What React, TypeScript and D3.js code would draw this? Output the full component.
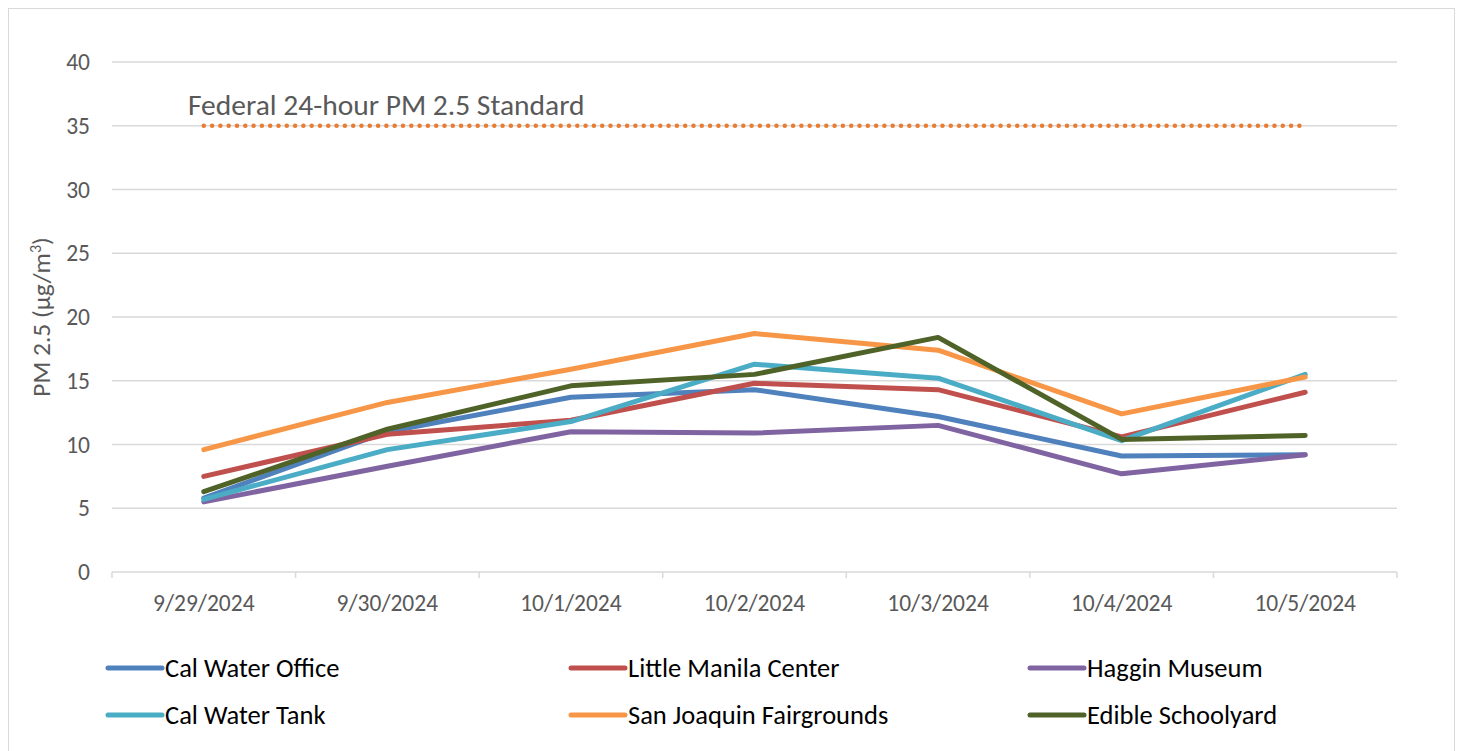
import React from "react";
import * as d3 from "d3";

const categories = ["9/29/2024", "9/30/2024", "10/1/2024", "10/2/2024", "10/3/2024", "10/4/2024", "10/5/2024"];
const calWaterOffice = [5.8, 11.0, 13.7, 14.3, 12.2, 9.1, 9.2];
const littleManila = [7.5, 10.8, 11.9, 14.8, 14.3, 10.6, 14.1];
const hagginMuseum = [5.5, 8.3, 11.0, 10.9, 11.5, 7.7, 9.2];
const calWaterTank = [5.7, 9.6, 11.8, 16.3, 15.2, 10.3, 15.5];
const sanJoaquin = [9.6, 13.3, 15.9, 18.7, 17.4, 12.4, 15.3];
const edibleSchoolyard = [6.3, 11.2, 14.6, 15.5, 18.4, 10.4, 10.7];
const federalStandard = [35, 35, 35, 35, 35, 35, 35];
const yTicks = [0, 5, 10, 15, 20, 25, 30, 35, 40];

const seriesNames = ["Cal Water Office", "Little Manila Center", "Haggin Museum", "Cal Water Tank", "San Joaquin Fairgrounds", "Edible Schoolyard"];
const seriesValues = [calWaterOffice, littleManila, hagginMuseum, calWaterTank, sanJoaquin, edibleSchoolyard];
const seriesColors = ["#4F81BD", "#C0504D", "#8064A2", "#4BACC6", "#F79646", "#4F6228"];

const FONT = "Carlito, 'Open Sans', 'Noto Sans', sans-serif";

export default function App() {
  const W = 1463, H = 751;
  const left = 112, right = 1397, top = 62, bottom = 572;
  const x = d3.scaleBand<string>().domain(categories).range([left, right]);
  const y = d3.scaleLinear().domain([0, 40]).range([bottom, top]);
  const cx = (c: string) => (x(c) as number) + x.bandwidth() / 2;
  const line = d3.line<number>().x((_, i) => cx(categories[i])).y((v) => y(v));
  const boundaries = categories.map((c) => x(c) as number).concat([right]);

  const legendCols = [108, 571, 1030];
  const legendRows = [668, 715];

  return (
    <svg width={W} height={H} style={{ display: "block", position: "absolute", left: 0, top: 0 }} fontFamily={FONT}>
      <rect x={0} y={0} width={W} height={H} fill="#fff" />
      <rect x={8.5} y={8.5} width={1446} height={760} fill="none" stroke="#d9d9d9" strokeWidth={1} />
      {yTicks.map((t) => (
        <g key={t}>
          {t > 0 && <line x1={left} x2={right} y1={y(t)} y2={y(t)} stroke="#d9d9d9" strokeWidth={1.5} />}
          <text x={90} y={y(t)} dy="0.35em" textAnchor="end" fontSize={23.5} fill="#595959">{t}</text>
        </g>
      ))}
      <line x1={left} x2={right} y1={bottom} y2={bottom} stroke="#d9d9d9" strokeWidth={1.5} />
      {boundaries.map((b, i) => (
        <line key={i} x1={b} x2={b} y1={bottom} y2={bottom + 6} stroke="#d9d9d9" strokeWidth={1.5} />
      ))}
      {categories.map((c) => (
        <text key={c} x={cx(c)} y={603} dy="0.35em" textAnchor="middle" fontSize={23.5} fill="#595959">{c}</text>
      ))}
      <text transform={`translate(50,${(top + bottom) / 2}) rotate(-90)`} textAnchor="middle" fontSize={25.5} fill="#595959">
        PM 2.5 (µg/m<tspan baselineShift="super" fontSize={16}>3</tspan>)
      </text>
      <path d={line(federalStandard) || ""} fill="none" stroke="#E97C30" strokeWidth={4.5} strokeDasharray="0 8.3" strokeLinecap="round" />
      <text x={188} y={115} fontSize={29.5} fill="#595959">Federal 24-hour PM 2.5 Standard</text>
      {seriesValues.map((vals, i) => (
        <path key={i} d={line(vals) || ""} fill="none" stroke={seriesColors[i]} strokeWidth={5} strokeLinejoin="round" strokeLinecap="round" />
      ))}
      {seriesNames.map((n, i) => {
        const lx = legendCols[i % 3];
        const ly = legendRows[Math.floor(i / 3)];
        return (
          <g key={n}>
            <line x1={lx} x2={lx + 54} y1={ly} y2={ly} stroke={seriesColors[i]} strokeWidth={5} strokeLinecap="round" />
            <text x={lx + 57} y={ly} dy="0.35em" fontSize={26.5} fill="#000">{n}</text>
          </g>
        );
      })}
    </svg>
  );
}
